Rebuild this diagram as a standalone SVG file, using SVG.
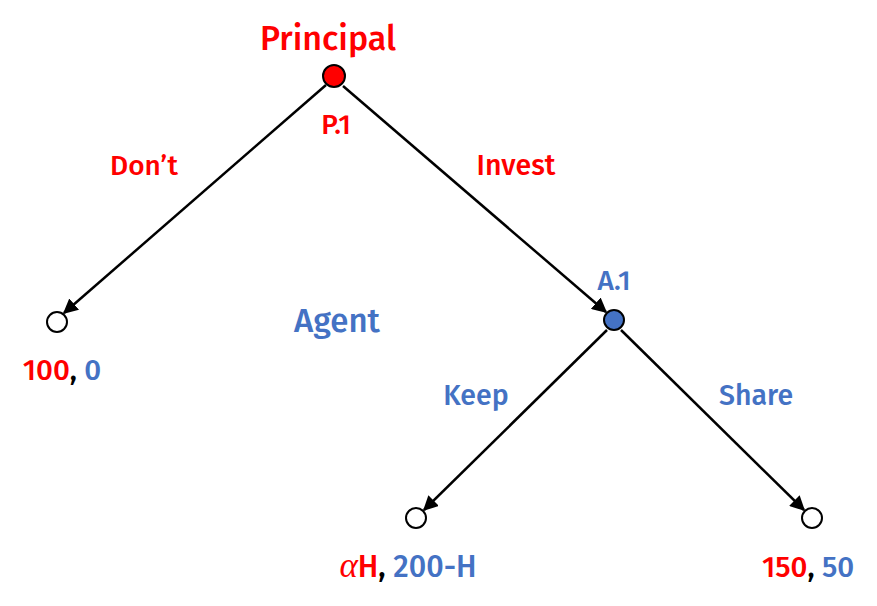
<svg xmlns="http://www.w3.org/2000/svg" width="877" height="606" viewBox="0 0 877 606">
<style>
text{font-family:"Fira Sans","Noto Sans","Open Sans","Liberation Sans",sans-serif;font-weight:500}
.r{fill:#FF0000}.b{fill:#4472C4}.k{fill:#000}
.e{stroke:#000;stroke-width:2.5;fill:none;marker-end:url(#ah)}
.t{fill:#fff;stroke:#000;stroke-width:2}
</style>
<defs>
<marker id="ah" viewBox="0 0 10 10" refX="9" refY="5" markerWidth="6" markerHeight="6" markerUnits="strokeWidth" orient="auto">
<path d="M0,0 L10,5 L0,10 z" fill="#000"/>
</marker>
</defs>
<rect width="877" height="606" fill="#fff"/>
<g id="connectors">
<line class="e" x1="326" y1="85" x2="64" y2="313"/>
<line class="e" x1="343" y1="86" x2="606" y2="312"/>
<line class="e" x1="607" y1="330" x2="424" y2="510"/>
<line class="e" x1="621" y1="330" x2="804" y2="510"/>
</g>
<g id="P1">
<circle cx="334" cy="76" r="11" fill="#FF0000" stroke="#000" stroke-width="2"/>
<text class="r" x="328" y="50" font-size="34" text-anchor="middle">Principal</text>
<text class="r" x="336" y="134" font-size="28" text-anchor="middle">P.1</text>
</g>
<g id="A1">
<circle cx="614" cy="320" r="10" fill="#4472C4" stroke="#000" stroke-width="2"/>
<text class="b" x="614" y="290" font-size="28" text-anchor="middle">A.1</text>
</g>
<g id="T1">
<circle class="t" cx="57" cy="322" r="10"/>
<text x="62" y="380" font-size="29.5" text-anchor="middle"><tspan class="r">100</tspan><tspan class="k">, </tspan><tspan class="b">0</tspan></text>
</g>
<g id="T2">
<circle class="t" cx="416" cy="518" r="10"/>
<text x="408" y="577" font-size="30.5" text-anchor="middle"><tspan class="r" font-family="Liberation Serif,serif" font-style="italic" font-size="35">α</tspan><tspan class="r">H</tspan><tspan class="k">, </tspan><tspan class="b">200-H</tspan></text>
</g>
<g id="T3">
<circle class="t" cx="812" cy="518" r="10"/>
<text x="808" y="577" font-size="29.5" text-anchor="middle"><tspan class="r">150</tspan><tspan class="k">, </tspan><tspan class="b">50</tspan></text>
</g>
<g id="labels">
<text class="r" x="144" y="175" font-size="28" text-anchor="middle">Don’t</text>
<text class="r" x="516" y="175" font-size="28.5" text-anchor="middle">Invest</text>
<text class="b" x="337" y="332" font-size="33" text-anchor="middle">Agent</text>
<text class="b" x="476" y="405" font-size="28.5" text-anchor="middle">Keep</text>
<text class="b" x="756" y="405" font-size="28.5" text-anchor="middle">Share</text>
</g>
</svg>
